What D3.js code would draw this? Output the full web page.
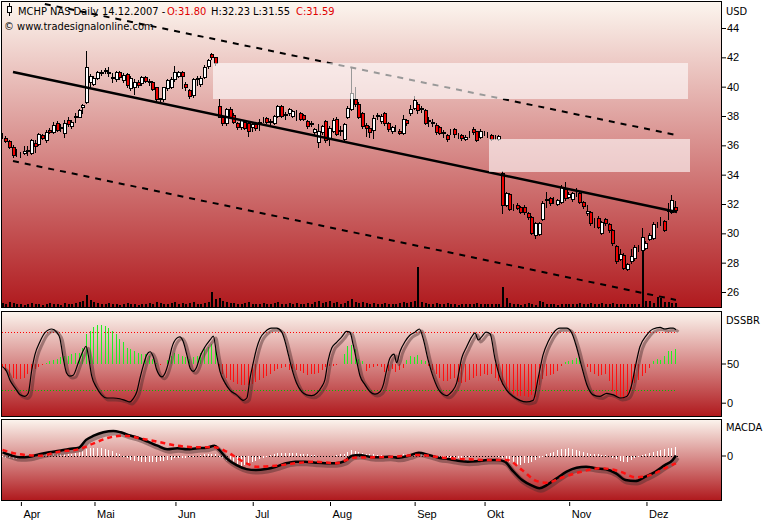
<!DOCTYPE html>
<html><head><meta charset="utf-8">
<script src="https://cdn.jsdelivr.net/npm/d3@7"></script>
<style>
html,body{margin:0;padding:0;background:#fff;}
svg{display:block;font-family:"DejaVu Sans Condensed","DejaVu Sans",sans-serif;font-stretch:condensed;font-size:11px;}
</style></head><body><svg id="c" width="769" height="520"></svg>
<script>
// ---------------- DATA ----------------
const symbol = "MCHP NAS Daily";
const lastDate = "14.12.2007 -";
const months = ["Apr","Mai","Jun","Jul","Aug","Sep","Okt","Nov","Dez"];
const monthIdx = [5,25,47,68,89,112,131,154,175];
const priceTicks = [26,28,30,32,34,36,38,40,42,44];

const open = [36.62,36.50,36.30,35.88,35.45,35.48,35.50,35.62,35.48,36.16,36.09,36.71,36.37,37.05,36.91,37.50,37.20,36.84,37.73,37.30,
37.95,37.95,38.60,38.96,40.30,40.20,40.60,40.95,41.10,40.95,40.65,40.50,41.00,40.45,40.85,39.90,39.95,40.30,40.25,40.65,
40.40,40.30,39.95,39.15,39.15,39.90,40.00,40.50,40.75,41.00,40.15,39.75,39.40,40.55,40.15,40.65,41.40,42.20,42.00,38.70,
37.90,37.50,38.50,38.10,37.50,37.25,37.60,37.50,37.25,37.45,37.55,37.80,37.85,37.60,37.55,38.00,38.70,38.10,38.20,38.00,
38.20,38.20,38.05,37.65,37.55,36.90,36.20,36.90,37.65,36.40,37.00,37.80,37.00,36.40,37.95,38.50,39.15,38.85,38.20,37.40,
37.20,37.05,38.00,37.65,38.20,37.50,36.95,37.20,37.00,36.85,37.70,38.20,38.55,38.80,38.50,38.40,37.65,37.60,37.40,37.25,
36.85,36.70,36.95,37.10,36.70,36.70,36.45,36.80,37.10,36.95,36.60,36.85,36.80,36.70,36.55,36.45,34.10,31.93,32.68,31.80,
31.93,31.80,31.80,31.39,31.12,29.89,29.95,30.98,32.30,32.41,32.25,32.00,32.14,33.03,32.48,32.34,32.80,32.75,32.14,31.39,
31.46,30.84,31.05,30.02,30.98,30.64,30.23,29.14,28.25,28.52,27.57,28.12,28.32,29.00,28.87,29.00,29.62,29.68,30.57,30.75,
30.84,31.55,31.46,31.80];
const high = [36.84,36.63,36.35,36.00,35.75,35.55,35.95,35.95,36.45,36.37,36.85,36.80,37.05,37.15,37.60,37.65,37.45,37.73,37.90,37.70,
38.20,38.50,38.80,42.43,40.85,40.70,41.10,41.15,41.30,41.35,40.90,41.10,41.10,40.90,40.95,40.70,40.50,40.45,40.70,40.75,
40.50,40.40,40.00,39.25,40.00,40.50,40.65,41.40,41.10,41.10,40.30,39.85,40.60,40.70,40.70,41.45,41.90,42.30,42.05,39.15,
38.00,38.55,38.60,38.20,37.60,37.80,37.70,37.60,37.55,37.50,37.80,37.95,37.95,37.80,38.10,38.75,38.75,38.30,38.55,38.40,
38.40,38.30,38.15,37.70,37.65,37.20,37.45,37.40,37.75,37.30,37.85,37.90,37.30,37.50,38.65,41.25,39.95,38.95,38.30,37.50,
37.35,38.10,38.20,38.15,38.25,37.60,37.35,37.40,37.10,38.10,37.80,38.75,39.35,38.95,38.70,38.45,37.90,37.80,37.50,37.35,
37.05,36.80,37.10,37.20,36.85,36.80,36.70,37.00,37.25,37.00,37.10,36.95,36.90,36.80,36.70,36.70,34.25,32.85,32.75,32.00,
32.10,31.85,31.90,31.45,31.20,30.80,30.75,32.20,32.80,32.50,32.45,32.35,33.30,33.50,32.80,32.85,33.10,32.85,32.20,31.93,
31.55,31.05,31.15,30.85,31.05,30.70,30.30,29.20,28.90,28.65,28.00,28.90,29.20,29.20,30.36,29.45,30.05,30.75,30.75,31.10,
30.90,32.05,32.60,32.23];
const low = [36.50,36.23,35.85,35.20,35.27,35.20,35.40,35.35,35.40,35.55,36.00,36.40,36.23,36.85,36.85,36.95,36.95,36.55,37.35,37.20,
37.60,37.90,38.20,38.90,40.00,40.10,40.50,40.80,40.90,40.75,40.30,40.40,40.55,40.35,40.00,39.80,39.50,40.00,40.10,40.30,
40.10,39.75,39.00,38.95,39.05,39.80,39.90,40.40,40.65,39.90,39.80,39.25,39.30,40.10,40.05,40.60,41.30,41.90,41.50,37.90,
37.40,37.40,37.85,37.50,37.10,37.10,37.10,36.65,37.00,37.05,37.05,37.60,37.50,37.45,37.45,37.95,37.90,37.80,38.10,37.90,
37.75,37.70,37.70,37.20,37.35,36.80,35.90,36.80,36.20,36.00,36.90,36.70,36.70,36.30,37.85,38.40,38.65,37.85,37.20,36.65,
36.60,36.50,37.80,37.55,37.40,37.00,36.85,37.00,36.75,36.75,37.40,38.10,38.45,38.20,38.30,37.45,37.35,37.30,36.80,36.75,
36.60,36.30,36.75,36.60,36.50,36.35,36.35,36.60,36.80,36.30,36.50,36.70,36.60,36.35,36.40,36.35,31.39,31.85,31.60,31.60,
31.65,31.40,31.35,31.00,29.95,29.70,29.90,30.90,31.80,31.95,32.10,31.90,32.05,32.30,32.40,32.20,32.55,32.05,31.75,31.26,
30.60,30.43,30.35,29.95,30.60,30.10,29.20,28.00,28.15,27.55,27.50,28.00,28.20,28.80,28.80,28.90,29.55,29.60,30.45,30.55,
30.15,31.00,31.40,31.55];
const close = [36.65,36.30,35.88,35.34,35.48,35.45,35.60,35.70,36.37,35.95,36.77,36.50,36.91,36.91,37.39,37.05,37.25,37.50,37.45,37.60,
37.98,38.41,38.75,41.34,40.70,40.60,41.00,41.00,41.15,41.00,40.60,41.00,40.65,40.80,40.10,40.60,40.30,40.10,40.65,40.40,
40.35,39.85,39.15,39.20,39.95,40.45,40.50,40.98,41.00,40.70,40.00,39.35,40.50,40.60,40.60,41.35,41.80,42.00,41.60,37.95,
37.50,38.50,37.95,37.60,37.25,37.70,37.20,37.00,37.45,37.20,37.60,37.82,37.60,37.65,38.00,38.70,38.00,38.15,38.45,38.35,
38.22,37.80,37.80,37.30,37.45,37.10,37.00,37.30,36.35,37.20,37.70,36.80,37.05,37.45,38.55,39.55,38.80,37.95,37.30,37.20,
36.90,37.85,38.05,38.00,37.50,37.10,37.25,37.15,36.85,37.80,37.50,38.50,39.10,38.40,38.55,37.55,37.70,37.55,36.90,36.85,
36.90,36.45,37.00,36.75,36.70,36.50,36.55,36.75,36.90,36.35,36.95,36.85,36.75,36.45,36.55,36.65,31.93,32.75,31.66,31.82,
31.73,31.46,31.46,31.12,30.02,30.71,30.71,32.07,32.35,32.07,32.27,32.27,33.16,32.41,32.68,32.75,32.85,32.14,31.87,31.52,
30.71,30.85,30.43,30.77,30.71,30.23,29.34,28.12,28.59,27.64,27.91,28.46,29.07,29.02,29.75,29.34,29.89,30.64,30.60,30.80,
30.23,31.60,32.27,31.59];
const volume = [4,3,5,4,3,3,2,3,4,3, 3,2,3,4,3,3,2,4,3,3, 4,5,6,12,7,5,4,3,3,4, 3,3,2,3,4,3,3,2,3,3,
4,3,5,4,3,3,4,5,3,4, 3,4,5,3,3,4,5,15,8,9, 6,5,4,4,3,3,4,5,3,3, 3,4,3,3,4,5,3,3,4,3,
4,3,3,4,3,5,6,4,5,6, 4,5,3,4,6,8,5,4,5,4, 3,4,3,3,4,3,3,3,4,5, 4,5,6,40,5,4,3,3,4,3,
3,4,3,3,2,3,3,3,3,4, 3,3,3,3,3,3,20,9,4,3, 3,2,3,4,3,2,6,5,3,3, 3,2,3,3,3,3,3,4,3,3,
4,3,3,4,3,3,4,3,3,3, 3,3,3,3,57,6,6,4,10,9, 5,5,4,4];

// trend lines [idx, price]
const trendSolid = [[2.85,41.00],[183.3,31.46]];
const trendUpper = [[11.5,45.64],[183,36.71]];
const trendLower = [[2.85,34.93],[183,25.46]];
// shaded zones
const zoneFrom = [57.2,132.2];
const zoneTo = [186.3,186.8];
const zoneHi = [41.61,36.43];
const zoneLo = [39.19,34.18];

// DSSBR
const dssLevels = [90,16];
const dssAt = [0,1.1,2,3.4,4.8,6.1,7,7.9,8.8,10.2,11.5,13.4,14.7,15.6,16.5,17.4,18.3,19.2,20.6,22,22.7,23.3,24.2,25.6,26.9,28.3,30.1,31.9,33.3,34.6,35.5,36.5,37.4,38.3,39.2,40.1,41,41.9,43.3,44.2,45.1,46,47.3,48.2,49.1,50.1,51,51.8,52.8,53.7,55,56.4,57.3,58.2,59.1,60.5,61.8,63.6,65.4,66.4,67.3,68.2,69.1,70,71.3,73.1,74.5,75.9,76.8,77.7,78.6,79.9,81.3,82.6,84,85.4,86.7,87.6,88.5,89.5,90.8,92.2,93.5,94.4,95.3,96.3,97.1,98.5,99.9,101.2,102.6,103.5,104.4,105.3,106.4,107.1,108,109.4,110.7,112.1,113.3,114.3,115.7,117.1,118.9,120.7,122.1,123.4,124.8,126.1,127.5,128.4,129.3,130.2,131.4,132.5,133.8,135.2,137,138.8,140.6,142.4,144.2,145.6,146.9,148.3,149.7,151.5,153.3,154.7,156,157.4,158.8,160.5,162.4,164.2,166,167.8,169.6,171,171.9,173.2,175,176.8,178.7,180,181.4,182.3,183];
const dssVal = [46,40,29,19,10,8,12,40,61,78,89,94,90,82,57,38,34,35,51,67,72,61,35,19,10,6,6,5,3,1,5,14,32,48,61,65,58,42,33,38,51,70,82,84,78,61,44,40,46,59,71,80,85,61,40,25,16,10,3,6,32,52,70,82,90,95,95,90,78,61,44,25,14,10,9,12,20,29,54,70,77,84,91,90,74,52,35,23,14,11,14,23,42,57,62,51,65,78,86,90,94,82,54,32,14,9,14,25,57,71,84,89,80,84,90,88,57,32,16,8,3,1,3,32,61,78,89,95,95,89,71,46,23,10,8,12,10,6,8,23,44,71,86,94,96,94,95,95,93];
const dssHist = [-5,-9,-16,-18,-20,-20,-18,-14,-11,-7,-5,-2,1,3,5,6,8,10,10,12,13,14,20,37,42,47,49,49,48,45,41,37,31,27,20,18,16,14,12,12,
10,6,1,-2,-1,5,10,14,12,10,8,6,8,10,13,18,21,25,18,-8,-14,-18,-21,-24,-26,-27,-28,-28,-26,-23,-21,-18,-16,-13,-9,-7,-6,-5,-8,-7,
-8,-10,-12,-15,-14,-14,-12,-8,-5,-3,-3,-2,-1,12,22,24,18,6,3,-9,-6,-4,-3,-5,-11,-9,-7,-11,-8,-6,4,9,8,11,5,3,-3,-8,-13,-18,
-22,-22,-20,-18,-24,-25,-23,-21,-18,-16,-16,-14,-15,-14,-18,-22,-28,-33,-36,-39,-41,-41,-41,-43,-40,-43,-28,-20,-16,-15,-13,-9,-3,2,3,5,7,5,-1,-5,
-11,-14,-16,-15,-14,-22,-35,-41,-43,-45,-41,-33,-25,-21,-16,-12,-6,3,6,5,9,16,16,18];

// MACDA
const macdAt = [0,2,4.7,7.4,10,12.7,15.4,18.1,20.7,22.7,24.8,27.4,30.1,32.1,34.1,36.8,39.5,42.1,44.8,47.5,50.2,52.9,55.5,57.6,58.9,60.9,63.6,66.3,68.9,71.6,74.3,77,79.6,82.3,85,87.7,90.4,93,95,97,99.7,102.4,105.1,107.7,110.4,113.1,115.8,118.5,121.1,123.8,126.5,129.2,131.8,134.5,136.5,138.5,141.2,143.9,145.9,147.9,150.6,153.3,156,158.6,161.3,164,166.7,169.3,172,174.7,177.4,180,182.1,183];
const macdVal = [0.16,0.03,-0.09,-0.06,0.06,0.16,0.24,0.33,0.39,0.78,0.99,1.16,1.23,1.16,1.03,0.89,0.69,0.49,0.31,0.36,0.31,0.36,0.39,0.49,0.28,-0.14,-0.48,-0.68,-0.73,-0.68,-0.56,-0.39,-0.31,-0.31,-0.36,-0.39,-0.39,-0.28,-0.01,0.03,-0.06,-0.09,-0.06,-0.11,-0.01,0.14,0.03,-0.11,-0.18,-0.26,-0.31,-0.28,-0.23,-0.23,-0.31,-0.73,-1.23,-1.51,-1.64,-1.48,-1.14,-0.81,-0.61,-0.56,-0.64,-0.69,-0.89,-1.23,-1.28,-1.06,-0.81,-0.48,-0.23,0.0];
const sigAt = [0,4.7,10,15.4,20.7,24.8,28.8,32.8,38.2,42.1,47.5,52.9,57.6,60.9,63.6,66.3,68.9,74.3,79.6,85,90.4,95.7,101.1,106.4,113.1,119.8,126.5,133.2,137.2,141.2,145.2,147.9,151.9,157.3,162.6,168,172,176,180,183];
const sigVal = [0.28,0.06,-0.01,0.19,0.31,0.61,0.89,0.99,0.83,0.69,0.49,0.41,0.41,0.19,-0.11,-0.39,-0.56,-0.51,-0.39,-0.31,-0.39,-0.11,-0.09,-0.06,0.03,-0.11,-0.19,-0.23,-0.23,-0.73,-1.28,-1.36,-1.11,-0.81,-0.64,-0.81,-1.09,-0.98,-0.64,-0.39];
const macdHist = [-0.05,-0.1,-0.15,-0.18,-0.18,-0.15,-0.13,-0.1,-0.08,-0.05,-0.03,0.03,0.05,0.05,0.05,0.08,0.08,0.08,0.1,0.1,
0.13,0.18,0.25,0.33,0.38,0.4,0.4,0.4,0.35,0.3,0.23,0.15,0.05,-0.05,-0.15,-0.2,-0.25,-0.28,-0.3,-0.3,
-0.3,-0.3,-0.3,-0.28,-0.25,-0.23,-0.2,-0.15,-0.13,-0.1,-0.1,-0.08,-0.05,-0.03,0.03,0.05,0.08,0.1,0.08,-0.05,
-0.15,-0.25,-0.35,-0.43,-0.48,-0.5,-0.48,-0.4,-0.33,-0.25,-0.18,-0.1,-0.05,0.03,0.08,0.13,0.15,0.15,0.15,0.13,
0.13,0.1,0.08,0.05,0.03,0.03,-0.03,-0.03,-0.03,-0.03,-0.03,0.03,0.05,0.1,0.2,0.28,0.25,0.2,0.15,0.1,
0.08,0.05,0.03,0.03,-0.03,-0.03,-0.03,-0.03,0.03,0.05,0.08,0.1,0.13,0.13,0.1,0.05,0.03,-0.03,-0.05,-0.08,
-0.1,-0.1,-0.13,-0.15,-0.13,-0.1,-0.08,-0.05,-0.03,-0.03,-0.03,-0.03,-0.03,-0.03,-0.03,-0.05,-0.1,-0.2,-0.3,-0.4,
-0.45,-0.45,-0.4,-0.35,-0.3,-0.2,-0.13,-0.05,0.05,0.13,0.2,0.28,0.33,0.35,0.38,0.35,0.3,0.25,0.2,0.15,
0.1,0.08,0.05,0.03,0.03,-0.03,-0.1,-0.18,-0.25,-0.3,-0.3,-0.23,-0.15,-0.08,0.03,0.08,0.15,0.2,0.25,0.3,
0.35,0.38,0.4,0.45];

// ---------------- DRAW ----------------
const svg = d3.select("#c");
const defs = svg.append("defs");
const g0 = defs.append("linearGradient").attr("id","bg").attr("x1",0).attr("y1",0).attr("x2",0).attr("y2",1);
g0.append("stop").attr("offset","0%").attr("stop-color","#fcf6ef");
g0.append("stop").attr("offset","100%").attr("stop-color","#b01a1e");

const PL = 1, PR = 721;
const panels = [{id:"pm",t:1,b:307},{id:"pd",t:311,b:416},{id:"pa",t:419,b:500}];
panels.forEach(p=>{
  defs.append("clipPath").attr("id","clip-"+p.id).append("rect")
    .attr("x",PL+1).attr("y",p.t+1).attr("width",PR-PL-1).attr("height",p.b-p.t-1);
  svg.append("rect").attr("x",PL).attr("y",p.t).attr("width",PR-PL).attr("height",p.b-p.t).attr("fill","url(#bg)");
});

const x = d3.scaleLinear().domain([0,183]).range([2.5,675.9]);
const yP = d3.scaleLinear().domain([26,44]).range([292,28]);
const yV = d3.scaleLinear().domain([0,60]).range([307,247]);
const yD = d3.scaleLinear().domain([0,50]).range([402.7,363.5]);
const yM = d3.scaleLinear().domain([0,1]).range([455.5,435.5]);
const idx = d3.range(close.length);
const cx = i => Math.round(x(i));

// ---- main panel
const gm = svg.append("g").attr("clip-path","url(#clip-pm)");
gm.selectAll("rect.vol").data(idx).join("rect").attr("class","vol")
  .attr("x",i=>cx(i)-1).attr("width",2)
  .attr("y",i=>Math.round(yV(volume[i]))).attr("height",i=>307-Math.round(yV(volume[i])))
  .attr("fill","#000");

gm.selectAll("line.wick").data(idx).join("line").attr("class","wick")
  .attr("x1",i=>cx(i)-0.5).attr("x2",i=>cx(i)-0.5)
  .attr("y1",i=>Math.round(yP(high[i]))).attr("y2",i=>Math.round(yP(low[i]))+1)
  .attr("stroke","#000").attr("stroke-width",1);
gm.selectAll("rect.body").data(idx).join("rect").attr("class","body")
  .attr("x",i=>cx(i)-1.5).attr("width",3)
  .attr("y",i=>Math.round(yP(Math.max(open[i],close[i])))+0.5)
  .attr("height",i=>Math.round(yP(Math.min(open[i],close[i])))-Math.round(yP(Math.max(open[i],close[i]))))
  .attr("fill",i=>close[i]>=open[i]?"#ffffff":"#ee0000")
  .attr("stroke","#000").attr("stroke-width",1);

const tl = d3.line().x(d=>x(d[0])).y(d=>yP(d[1]));
gm.append("path").attr("d",tl(trendUpper)).attr("fill","none").attr("stroke","#000").attr("stroke-width",2).attr("stroke-dasharray","6,6");
gm.append("path").attr("d",tl(trendLower)).attr("fill","none").attr("stroke","#000").attr("stroke-width",2).attr("stroke-dasharray","6,6");
gm.append("path").attr("d",tl(trendSolid)).attr("fill","none").attr("stroke","#000").attr("stroke-width",2.5);

gm.selectAll("rect.zone").data(zoneFrom.map((d,i)=>i)).join("rect").attr("class","zone")
  .attr("x",i=>Math.round(x(zoneFrom[i]))).attr("width",i=>Math.round(x(zoneTo[i]))-Math.round(x(zoneFrom[i])))
  .attr("y",i=>Math.round(yP(zoneHi[i]))).attr("height",i=>Math.round(yP(zoneLo[i]))-Math.round(yP(zoneHi[i])))
  .attr("fill","#ffffff").attr("fill-opacity",0.6);

// header
const hd = svg.append("g");
hd.append("line").attr("x1",9.5).attr("x2",9.5).attr("y1",3).attr("y2",16).attr("stroke","#000");
hd.append("rect").attr("x",7.5).attr("y",6.5).attr("width",4).attr("height",6).attr("fill","#fff").attr("stroke","#000");
const ht = hd.append("text").attr("y",15).attr("fill","#000");
ht.append("tspan").attr("x",18).text(symbol);
ht.append("tspan").attr("x",102).text(lastDate);
ht.append("tspan").attr("x",167).attr("fill","#e00000").text("O:"+open[183].toFixed(2));
ht.append("tspan").attr("x",211).text("H:"+high[183].toFixed(2));
ht.append("tspan").attr("x",253).text("L:"+low[183].toFixed(2));
ht.append("tspan").attr("x",296).attr("fill","#e00000").text("C:"+close[183].toFixed(2));
hd.append("text").attr("x",4).attr("y",30).text("\u00a9 www.tradesignalonline.com");

// ---- DSSBR panel
const gd = svg.append("g").attr("clip-path","url(#clip-pd)");
gd.selectAll("line.lv").data(dssLevels).join("line").attr("class","lv")
  .attr("x1",2).attr("x2",x(183)).attr("y1",d=>Math.round(yD(d))+0.5).attr("y2",d=>Math.round(yD(d))+0.5)
  .attr("stroke",(d,i)=>i===0?"#ff0000":"#00c000").attr("stroke-dasharray","1,2");
gd.selectAll("line.dh").data(idx).join("line").attr("class","dh")
  .attr("x1",i=>cx(i)-0.5).attr("x2",i=>cx(i)-0.5)
  .attr("y1",Math.round(yD(50))).attr("y2",i=>Math.round(yD(50+dssHist[i])))
  .attr("stroke",i=>dssHist[i]>=0?"#22ee22":"#ff1010").attr("stroke-width",1);
const dssPts = dssAt.map((d,i)=>[d,dssVal[i]]);
const dl = d3.line().x(d=>x(d[0])).y(d=>yD(d[1])).curve(d3.curveMonotoneX);
gd.append("path").attr("d",dl(dssPts)).attr("fill","none").attr("stroke","#4a2a2a").attr("stroke-opacity",0.45)
  .attr("stroke-width",3).attr("transform","translate(2.5,2)");
gd.append("path").attr("d",dl(dssPts)).attr("fill","none").attr("stroke","#000").attr("stroke-width",1.2);

// ---- MACDA panel
const ga = svg.append("g").attr("clip-path","url(#clip-pa)");
ga.append("line").attr("x1",2).attr("x2",x(183)+3).attr("y1",Math.round(yM(0))+0.5).attr("y2",Math.round(yM(0))+0.5)
  .attr("stroke","#000").attr("stroke-dasharray","1,2");
ga.selectAll("line.mh").data(idx).join("line").attr("class","mh")
  .attr("x1",i=>cx(i)-0.5).attr("x2",i=>cx(i)-0.5)
  .attr("y1",Math.round(yM(0))).attr("y2",i=>Math.round(yM(macdHist[i])))
  .attr("stroke","#ffffff").attr("stroke-width",1);
const macdPts = macdAt.map((d,i)=>[d,macdVal[i]]);
const sigPts = sigAt.map((d,i)=>[d,sigVal[i]]);
const ml = d3.line().x(d=>x(d[0])).y(d=>yM(d[1])).curve(d3.curveMonotoneX);
ga.append("path").attr("d",ml(macdPts)).attr("fill","none").attr("stroke","#4a2a2a").attr("stroke-opacity",0.45)
  .attr("stroke-width",5).attr("transform","translate(1.5,2)");
ga.append("path").attr("d",ml(macdPts)).attr("fill","none").attr("stroke","#000").attr("stroke-width",2.5);
ga.append("path").attr("d",ml(sigPts)).attr("fill","none").attr("stroke","#ff1010").attr("stroke-width",2.5).attr("stroke-dasharray","5,4");

// borders
panels.forEach(p=>{
  svg.append("rect").attr("x",PL+0.5).attr("y",p.t+0.5).attr("width",PR-PL).attr("height",p.b-p.t)
    .attr("fill","none").attr("stroke","#000").attr("stroke-width",1);
});

// ---- axes
function styleAxis(g){ g.select(".domain").remove(); g.selectAll("text").attr("fill","#000").style("font-size","11px").attr("font-family",null); g.selectAll("line").attr("stroke","#000"); }
svg.append("g").attr("transform","translate(722,0)")
  .call(d3.axisRight(yP).tickValues(priceTicks).tickSize(4).tickPadding(1).tickFormat(d3.format("d"))).call(styleAxis);
svg.append("g").attr("transform","translate(722,0)")
  .call(d3.axisRight(yD).tickValues([0,50]).tickSize(4).tickPadding(1).tickFormat(d3.format("d"))).call(styleAxis);
svg.append("g").attr("transform","translate(722,0)")
  .call(d3.axisRight(yM).tickValues([0]).tickSize(4).tickPadding(1).tickFormat(d3.format("d"))).call(styleAxis);
svg.append("text").attr("x",726).attr("y",15).text("USD");
svg.append("text").attr("x",726).attr("y",324).text("DSSBR");
svg.append("text").attr("x",726).attr("y",431).text("MACDA");

const xa = svg.append("g").attr("transform","translate(0,502)")
  .call(d3.axisBottom(x).tickValues(monthIdx).tickSize(4).tickFormat((d,i)=>months[i])).call(styleAxis);
xa.selectAll("text").attr("text-anchor","start").attr("x",2).attr("dy",null).attr("y",15.5);
</script></body></html>
